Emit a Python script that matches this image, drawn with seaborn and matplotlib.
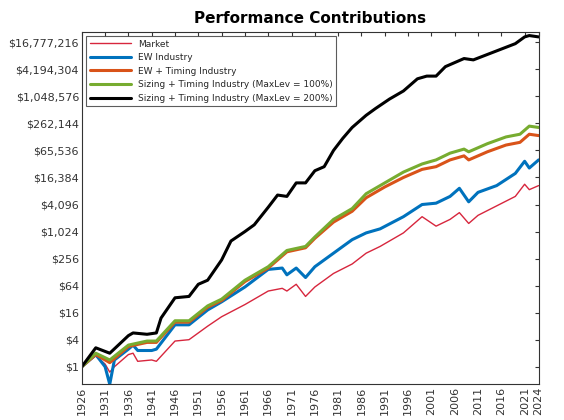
import matplotlib
matplotlib.use("Agg")
import matplotlib.pyplot as plt
import seaborn as sns
import pandas as pd

# -- Data (log2 of growth of $1) -----------------------------------------------
black_years = [1926, 1929, 1932, 1936, 1937, 1940, 1942, 1943, 1946, 1949, 1951, 1953,
               1956, 1958, 1961, 1963, 1966, 1968, 1970, 1972, 1974, 1976, 1978, 1980,
               1982, 1984, 1987, 1989, 1992, 1995, 1998, 2000, 2002, 2004, 2008, 2010,
               2013, 2016, 2019, 2021, 2022, 2024]
black_vals = [0, 1.4, 1.0, 2.3, 2.5, 2.4, 2.5, 3.6, 5.1, 5.2, 6.1, 6.4,
              7.9, 9.3, 10.0, 10.5, 11.8, 12.7, 12.6, 13.6, 13.6, 14.5, 14.8, 16.0,
              16.9, 17.7, 18.6, 19.1, 19.8, 20.4, 21.3, 21.5, 21.5, 22.2, 22.8, 22.7,
              23.1, 23.5, 23.9, 24.4, 24.5, 24.4]

st_years = [1926, 1929, 1932, 1936, 1940, 1942, 1946, 1949, 1953, 1956, 1961, 1966,
            1970, 1974, 1976, 1980, 1984, 1987, 1991, 1995, 1999, 2002, 2005, 2008,
            2009, 2013, 2017, 2020, 2022, 2024]
green_vals = [0, 1.0, 0.5, 1.6, 1.9, 1.9, 3.4, 3.4, 4.5, 5.0, 6.4, 7.4,
              8.6, 8.9, 9.6, 10.9, 11.7, 12.8, 13.6, 14.4, 15.0, 15.3, 15.8, 16.1,
              15.9, 16.5, 17.0, 17.2, 17.8, 17.7]
orange_vals = [0, 0.9, 0.3, 1.5, 1.8, 1.8, 3.3, 3.3, 4.4, 4.9, 6.3, 7.3,
               8.5, 8.8, 9.5, 10.7, 11.5, 12.5, 13.3, 14.0, 14.6, 14.8, 15.3, 15.6,
               15.3, 15.9, 16.4, 16.6, 17.2, 17.1]

mkt_years = [1926, 1929, 1931, 1932, 1933, 1936, 1937, 1938, 1941, 1942, 1946, 1949,
             1953, 1956, 1961, 1966, 1969, 1970, 1972, 1974, 1976, 1980, 1984, 1987,
             1990, 1995, 1999, 2002, 2005, 2007, 2009, 2011, 2015, 2019, 2021, 2022, 2024]
blue_vals = [0, 0.9, 0.0, -1.3, 0.5, 1.3, 1.6, 1.2, 1.2, 1.3, 3.1, 3.1,
             4.2, 4.8, 5.9, 7.2, 7.3, 6.8, 7.3, 6.6, 7.4, 8.4, 9.4, 9.9,
             10.2, 11.1, 12.0, 12.1, 12.6, 13.2, 12.2, 12.9, 13.4, 14.3, 15.2, 14.7, 15.3]
red_vals = [0, 0.8, 0.2, -0.4, 0.0, 0.9, 1.0, 0.4, 0.5, 0.4, 1.9, 2.0,
            3.0, 3.7, 4.6, 5.6, 5.8, 5.6, 6.1, 5.2, 5.9, 6.9, 7.6, 8.4,
            8.9, 9.9, 11.1, 10.4, 10.9, 11.4, 10.6, 11.2, 11.9, 12.6, 13.5, 13.1, 13.4]

labels = ["Market", "EW Industry", "EW + Timing Industry",
          "Sizing + Timing Industry (MaxLev = 100%)",
          "Sizing + Timing Industry (MaxLev = 200%)"]
colors = ["#d7263d", "#0072bd", "#d95319", "#77ac30", "#000000"]
widths = [1.0, 2.2, 2.2, 2.2, 2.2]

series = [(mkt_years, red_vals), (mkt_years, blue_vals), (st_years, orange_vals),
          (st_years, green_vals), (black_years, black_vals)]

sns.set_style("white")
fig, ax = plt.subplots(figsize=(5.64, 4.2), dpi=100)
fig.subplots_adjust(left=0.145, right=0.955, top=0.925, bottom=0.085)

for (yrs, vals), lab, col, lw in zip(series, labels, colors, widths):
    df = pd.DataFrame({"year": yrs, "v": vals})
    sns.lineplot(data=df, x="year", y="v", ax=ax, color=col, lw=lw, label=lab)

ax.set_xlim(1926, 2024)
ax.set_ylim(-1.3, 24.8)
xt = list(range(1926, 2022, 5)) + [2024]
ax.set_xticks(xt)
ax.set_xticklabels([str(x) for x in xt], rotation=90, fontsize=8)
yt = list(range(0, 25, 2))
ax.set_yticks(yt)
ax.set_yticklabels([f"${2**e:,}" for e in yt], fontsize=8)
ax.tick_params(direction="in", length=3, top=True, right=True, pad=2, colors="#333333")
ax.set_xlabel("")
ax.set_ylabel("")
for s in ax.spines.values():
    s.set_color("#333333")
    s.set_linewidth(0.8)
ax.set_title("Performance Contributions", fontsize=11, fontweight="bold", color="black")
leg = ax.legend(loc="upper left", fontsize=6.5, frameon=True, fancybox=False,
                edgecolor="#333333", handlelength=4.5, borderpad=0.4, labelspacing=0.5)
leg.get_frame().set_linewidth(0.8)

fig.savefig("out.png", dpi=100)
